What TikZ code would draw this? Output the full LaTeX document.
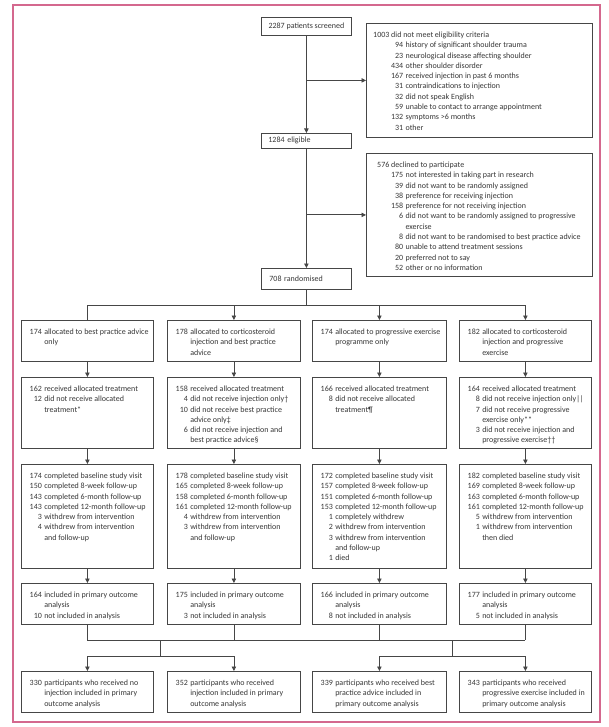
\documentclass[tikz,border=0pt]{standalone}
\usepackage{fontspec}
\setmainfont{Carlito}
\usetikzlibrary{arrows.meta,calc}
\definecolor{framec}{RGB}{212,104,142}
\definecolor{lnc}{RGB}{70,70,70}
\definecolor{txc}{RGB}{55,55,55}
\newcommand{\fsz}{\fontsize{8}{10.3}\selectfont}
\newcommand{\tb}[1]{\begin{tabular}[t]{@{}r@{\hspace{0.3em}}l@{}}#1\end{tabular}}
\newcommand{\nb}[2]{\makebox[#1][r]{#2}}
\newcommand{\bx}[6]{%
  \node[bx, anchor=north west, minimum width=#4pt-#2pt, minimum height=#5pt-#3pt] (#1) at (#2,#3) {};
  \node[txt, anchor=north west] (#1t) at ([xshift=8.5pt, yshift=-7pt]#1.north west) {\tb{#6}};}
\begin{document}
\begin{tikzpicture}[x=1pt,y=-1pt,
  bx/.style={draw=lnc, line width=0.8pt, inner sep=0pt},
  txt/.style={inner sep=0pt, text=txc, font=\fsz},
  conn/.style={draw=lnc, line width=0.8pt},
  arr/.style={draw=lnc, line width=0.8pt, -{Triangle[length=4.5pt,width=4.4pt]}}]
\useasboundingbox (0,0) rectangle (608,727);
\fill[white] (0,0) rectangle (608,727);
\draw[framec, line width=1.3pt] (13,5) rectangle (600,722);

% top flow
\node[bx, anchor=north west, minimum width=90pt, minimum height=18pt, text=txc, font=\fsz] (scr) at (261,17) {2287 patients screened};
\node[bx, anchor=north west, minimum width=90pt, minimum height=15pt, text=txc, font=\fsz, text width=76pt, inner xsep=7pt, align=left] (eli) at (261,133) {1284 eligible};
\node[bx, anchor=north west, minimum width=90pt, minimum height=21pt, text=txc, font=\fsz, text width=74pt, inner xsep=8pt, align=left] (ran) at (261,268) {708 randomised};

\node[bx, anchor=north west, minimum width=226pt, minimum height=114pt] (exc) at (366,23) {};
\node[txt, anchor=north west] (exct) at ([xshift=7pt, yshift=-7pt]exc.north west) {\tb{%
\multicolumn{2}{@{}l@{}}{1003 did not meet eligibility criteria}\\
\nb{30pt}{94} & history of significant shoulder trauma\\
\nb{30pt}{23} & neurological disease affecting shoulder\\
\nb{30pt}{434} & other shoulder disorder\\
\nb{30pt}{167} & received injection in past 6 months\\
\nb{30pt}{31} & contraindications to injection\\
\nb{30pt}{32} & did not speak English\\
\nb{30pt}{59} & unable to contact to arrange appointment\\
\nb{30pt}{132} & symptoms >6 months\\
\nb{30pt}{31} & other}};

\node[bx, anchor=north west, minimum width=226pt, minimum height=123pt] (dec) at (366,153) {};
\node[txt, anchor=north west] (dect) at ([xshift=11pt, yshift=-7pt]dec.north west) {\tb{%
\multicolumn{2}{@{}l@{}}{576 declined to participate}\\
\nb{26pt}{175} & not interested in taking part in research\\
\nb{26pt}{39} & did not want to be randomly assigned\\
\nb{26pt}{38} & preference for receiving injection\\
\nb{26pt}{158} & preference for not receiving injection\\
\nb{26pt}{6} & did not want to be randomly assigned to progressive\\
 & exercise\\
\nb{26pt}{8} & did not want to be randomised to best practice advice\\
\nb{26pt}{80} & unable to attend treatment sessions\\
\nb{26pt}{20} & preferred not to say\\
\nb{26pt}{52} & other or no information}};

% allocation
\bx{al1}{21}{320}{153}{361}{174 & allocated to best practice advice\\ & only}
\bx{al2}{167}{320}{300}{361}{178 & allocated to corticosteroid\\ & injection and best practice\\ & advice}
\bx{al3}{312}{320}{446}{361}{174 & allocated to progressive exercise\\ & programme only}
\bx{al4}{459}{320}{591}{361}{182 & allocated to corticosteroid\\ & injection and progressive\\ & exercise}

% treatment
\bx{tr1}{21}{377}{153}{448}{162 & received allocated treatment\\ 12 & did not receive allocated\\ & treatment*}
\bx{tr2}{167}{377}{300}{448}{158 & received allocated treatment\\ 4 & did not receive injection only†\\ 10 & did not receive best practice\\ & advice only‡\\ 6 & did not receive injection and\\ & best practice advice§}
\bx{tr3}{312}{377}{446}{448}{166 & received allocated treatment\\ 8 & did not receive allocated\\ & treatment¶}
\bx{tr4}{459}{377}{591}{448}{164 & received allocated treatment\\ 8 & did not receive injection only||\\ 7 & did not receive progressive\\ & exercise only**\\ 3 & did not receive injection and\\ & progressive exercise††}

% follow-up
\bx{fu1}{21}{464}{153}{568}{174 & completed baseline study visit\\ 150 & completed 8-week follow-up\\ 143 & completed 6-month follow-up\\ 143 & completed 12-month follow-up\\ 3 & withdrew from intervention\\ 4 & withdrew from intervention\\ & and follow-up}
\bx{fu2}{167}{464}{300}{568}{178 & completed baseline study visit\\ 165 & completed 8-week follow-up\\ 158 & completed 6-month follow-up\\ 161 & completed 12-month follow-up\\ 4 & withdrew from intervention\\ 3 & withdrew from intervention\\ & and follow-up}
\bx{fu3}{312}{464}{446}{568}{172 & completed baseline study visit\\ 157 & completed 8-week follow-up\\ 151 & completed 6-month follow-up\\ 153 & completed 12-month follow-up\\ 1 & completely withdrew\\ 2 & withdrew from intervention\\ 3 & withdrew from intervention\\ & and follow-up\\ 1 & died}
\bx{fu4}{459}{464}{591}{568}{182 & completed baseline study visit\\ 169 & completed 8-week follow-up\\ 163 & completed 6-month follow-up\\ 161 & completed 12-month follow-up\\ 5 & withdrew from intervention\\ 1 & withdrew from intervention\\ & then died}

% analysis
\bx{an1}{21}{583}{153}{624}{164 & included in primary outcome\\ & analysis\\ 10 & not included in analysis}
\bx{an2}{167}{583}{300}{624}{175 & included in primary outcome\\ & analysis\\ 3 & not included in analysis}
\bx{an3}{312}{583}{446}{624}{166 & included in primary outcome\\ & analysis\\ 8 & not included in analysis}
\bx{an4}{459}{583}{591}{624}{177 & included in primary outcome\\ & analysis\\ 5 & not included in analysis}

% final
\bx{fi1}{21}{671}{153}{712}{330 & participants who received no\\ & injection included in primary\\ & outcome analysis}
\bx{fi2}{167}{671}{300}{712}{352 & participants who received\\ & injection included in primary\\ & outcome analysis}
\bx{fi3}{312}{671}{446}{712}{339 & participants who received best\\ & practice advice included in\\ & primary outcome analysis}
\bx{fi4}{459}{671}{591}{712}{343 & participants who received\\ & progressive exercise included in\\ & primary outcome analysis}

% connectors top
\draw[arr] (scr) -- (eli);
\draw[arr] (scr.south |- exc.west) -- (exc.west);
\draw[arr] (eli) -- (ran);
\draw[arr] (eli.south |- dec.west) -- (dec.west);
\coordinate (br) at (306,305);
\draw[conn] (ran.south) -- (ran.south |- br);
\draw[conn] (al1.north |- br) -- (al4.north |- br);
\draw[conn] (al1.north |- br) -- (al1.north);
\foreach \i in {2,3,4} {\draw[arr] (al\i.north |- br) -- (al\i.north);}
\foreach \i in {1,2,3,4} {
  \draw[arr] (al\i) -- (tr\i);
  \draw[arr] (tr\i) -- (fu\i);
  \draw[arr] (fu\i) -- (an\i);
}
% merge
\coordinate (mg) at (306,640);
\coordinate (sp) at (306,656);
\foreach \i in {1,2,3,4} {\draw[conn] (an\i.south) -- (an\i.south |- mg);}
\draw[conn] (an1.south |- mg) -- (an4.south |- mg);
\coordinate (mL) at ($(an1.south)!0.5!(an2.south)$);
\coordinate (mR) at ($(an3.south)!0.5!(an4.south)$);
\draw[conn] (mL |- mg) -- (mL |- sp);
\draw[conn] (mR |- mg) -- (mR |- sp);
\draw[conn] (fi1.north |- sp) -- (fi2.north |- sp);
\draw[conn] (fi3.north |- sp) -- (fi4.north |- sp);
\foreach \i in {1,2,3,4} {\draw[arr] (fi\i.north |- sp) -- (fi\i.north);}
\end{tikzpicture}
\end{document}
